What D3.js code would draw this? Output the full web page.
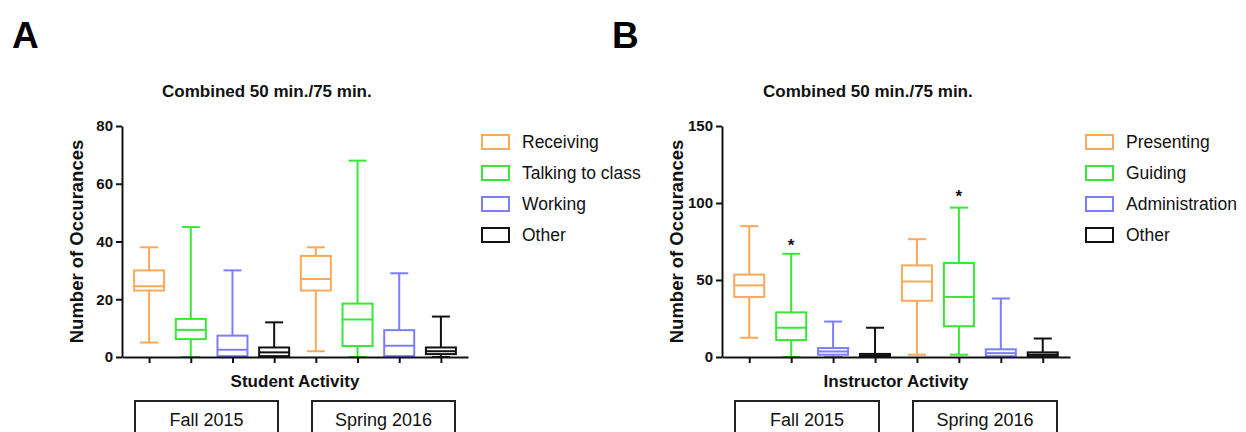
<!DOCTYPE html>
<html>
<head>
<meta charset="utf-8">
<script src="https://cdn.jsdelivr.net/npm/d3@7"></script>
<style>
  html, body { margin: 0; padding: 0; background: #fff; }
  svg { display: block; font-family: "Liberation Sans", Arial, Helvetica, sans-serif; }
</style>
</head>
<body>
<svg id="chart" width="1246" height="432"></svg>
<script>
// Terms shown in the boxes under each x axis
const terms = ["Fall 2015", "Spring 2016"];

// Panel A: student activity categories
const studentGroups = ["Receiving", "Talking to class", "Working", "Other"];
// Eight boxes: four categories in Fall 2015, then the same four in Spring 2016
const studentMin    = [5,  0,   0,   0,   2,  0,   0,   0];
const studentQ1     = [23, 6.2, 0.3, 0.3, 23, 3.8, 0.3, 1];
const studentMedian = [24.5, 9.4, 2.5, 1.6, 27, 13, 3.9, 2];
const studentQ3     = [30, 13.2, 7.4, 3.3, 35, 18.5, 9.3, 3.3];
const studentMax    = [38, 45, 30, 12, 38, 68, 29, 14];
const studentMarks  = [null, null, null, null, null, null, null, null];
const studentTicks  = [0, 20, 40, 60, 80];

// Panel B: instructor activity categories
const instructorGroups = ["Presenting", "Guiding", "Administration", "Other"];
const instructorMin    = [12.5, 0,  0,   0,   1.5, 1.5, 0,   0];
const instructorQ1     = [39,   11, 1.5, 0.3, 36.5, 20, 0.5, 0.5];
const instructorMedian = [46.5, 19, 3.6, 1,   49,  39,  2.5, 1.5];
const instructorQ3     = [53.5, 29, 5.8, 2,   59.5, 61, 5,   3];
const instructorMax    = [85,   67, 23,  19,  76.5, 97, 38,  12];
// Significance asterisks placed above the Guiding whiskers
const instructorMarks  = [null, 74, null, null, null, 106, null, null];
const instructorTicks  = [0, 50, 100, 150];

const colors = ["#f9a95b", "#3ae63a", "#7d7dff", "#111111"];

const svg = d3.select("#chart");

function drawPanel(cfg) {
  const g = svg.append("g");
  const n = cfg.groups.length * terms.length;
  const keys = d3.range(n);

  const x = d3.scalePoint().domain(keys).range([cfg.x0, cfg.x1]).padding(0.65);
  const y = d3.scaleLinear().domain([0, cfg.yMax]).range([cfg.yBottom, cfg.yTop]);

  const boxW = 30, capW = 18;

  // Boxes and whiskers
  const boxes = g.append("g").selectAll("g").data(keys).join("g")
    .attr("stroke", i => colors[i % cfg.groups.length])
    .attr("stroke-width", 2)
    .attr("fill", "none");

  boxes.append("line")
    .attr("x1", i => x(i)).attr("x2", i => x(i))
    .attr("y1", i => y(cfg.max[i])).attr("y2", i => y(cfg.q3[i]));
  boxes.append("line")
    .attr("x1", i => x(i)).attr("x2", i => x(i))
    .attr("y1", i => y(cfg.q1[i])).attr("y2", i => y(cfg.min[i]));
  boxes.append("line")
    .attr("x1", i => x(i) - capW / 2).attr("x2", i => x(i) + capW / 2)
    .attr("y1", i => y(cfg.max[i])).attr("y2", i => y(cfg.max[i]));
  boxes.append("line")
    .attr("x1", i => x(i) - capW / 2).attr("x2", i => x(i) + capW / 2)
    .attr("y1", i => y(cfg.min[i])).attr("y2", i => y(cfg.min[i]));
  boxes.append("rect")
    .attr("x", i => x(i) - boxW / 2)
    .attr("width", boxW)
    .attr("y", i => y(cfg.q3[i]))
    .attr("height", i => Math.max(0.5, y(cfg.q1[i]) - y(cfg.q3[i])))
    .attr("fill", "#fff");
  boxes.append("line")
    .attr("x1", i => x(i) - boxW / 2).attr("x2", i => x(i) + boxW / 2)
    .attr("y1", i => y(cfg.median[i])).attr("y2", i => y(cfg.median[i]));

  // Asterisks
  g.append("g").selectAll("text")
    .data(keys.filter(i => cfg.marks[i] != null)).join("text")
    .attr("x", i => x(i))
    .attr("y", i => y(cfg.marks[i]) + 8)
    .attr("text-anchor", "middle")
    .attr("font-size", 17)
    .attr("font-weight", "bold")
    .attr("fill", "#111")
    .text("*");

  // Y axis
  const yAxis = g.append("g")
    .attr("transform", `translate(${cfg.x0},0)`)
    .call(d3.axisLeft(y).tickValues(cfg.ticks).tickSize(6).tickSizeOuter(0).tickPadding(3));
  // X axis with a tick under each box
  const xAxis = g.append("g")
    .attr("transform", `translate(0,${cfg.yBottom})`)
    .call(d3.axisBottom(x).tickSize(6).tickSizeOuter(0).tickFormat(""));
  [yAxis, xAxis].forEach(a => {
    a.select(".domain").attr("stroke", "#111").attr("stroke-width", 2);
    a.selectAll(".tick line").attr("stroke", "#111").attr("stroke-width", 2);
  });
  yAxis.selectAll(".tick text")
    .attr("font-size", 15).attr("font-weight", "bold").attr("fill", "#111")
    .attr("font-family", "Liberation Sans, Arial, sans-serif");

  const cx = (cfg.x0 + cfg.x1) / 2;

  // Panel letter
  g.append("text").attr("x", cfg.letterX).attr("y", 48)
    .attr("font-size", 37).attr("font-weight", "bold").attr("fill", "#000")
    .text(cfg.letter);

  // Title
  g.append("text").attr("x", cx - 133).attr("y", 97)
    .attr("font-size", 17).attr("font-weight", "bold")
    .attr("fill", "#111").text("Combined 50 min./75 min.");

  // Y axis label
  g.append("text")
    .attr("transform", `translate(${cfg.x0 - 39},${(cfg.yTop + cfg.yBottom) / 2}) rotate(-90)`)
    .attr("text-anchor", "middle").attr("font-size", 18.5).attr("font-weight", "bold")
    .attr("fill", "#111").text("Number of Occurances");

  // X axis label
  g.append("text").attr("x", cx).attr("y", 387)
    .attr("text-anchor", "middle").attr("font-size", 17).attr("font-weight", "bold")
    .attr("fill", "#111").text(cfg.xLabel);

  // Term boxes
  const termBoxes = [
    { x: cfg.x0 + 13, w: cx - 17 - (cfg.x0 + 13) },
    { x: cx + 17, w: cfg.x1 - 13 - (cx + 17) }
  ];
  terms.forEach((t, k) => {
    const b = termBoxes[k];
    g.append("rect").attr("x", b.x).attr("y", 401).attr("width", b.w).attr("height", 40)
      .attr("fill", "#fff").attr("stroke", "#222").attr("stroke-width", 2);
    g.append("text").attr("x", b.x + b.w / 2).attr("y", 426)
      .attr("text-anchor", "middle").attr("font-size", 18).attr("fill", "#111").text(t);
  });

  // Legend
  const leg = g.append("g").selectAll("g").data(cfg.groups).join("g")
    .attr("transform", (d, i) => `translate(${cfg.legendX},${142 + i * 31})`);
  leg.append("rect").attr("x", 0).attr("y", -7).attr("width", 27).attr("height", 14)
    .attr("fill", "#fff").attr("stroke", (d, i) => colors[i]).attr("stroke-width", 2);
  leg.append("text").attr("x", 40).attr("y", 6)
    .attr("font-size", 17.5).attr("fill", "#111").text(d => d);
}

drawPanel({
  letter: "A", letterX: 12,
  groups: studentGroups,
  min: studentMin, q1: studentQ1, median: studentMedian, q3: studentQ3, max: studentMax,
  marks: studentMarks, ticks: studentTicks, yMax: 80,
  x0: 122, x1: 468, yTop: 126, yBottom: 357,
  xLabel: "Student Activity", legendX: 482
});

drawPanel({
  letter: "B", letterX: 612,
  groups: instructorGroups,
  min: instructorMin, q1: instructorQ1, median: instructorMedian, q3: instructorQ3, max: instructorMax,
  marks: instructorMarks, ticks: instructorTicks, yMax: 150,
  x0: 722, x1: 1070, yTop: 126, yBottom: 357,
  xLabel: "Instructor Activity", legendX: 1086
});
</script>
</body>
</html>
